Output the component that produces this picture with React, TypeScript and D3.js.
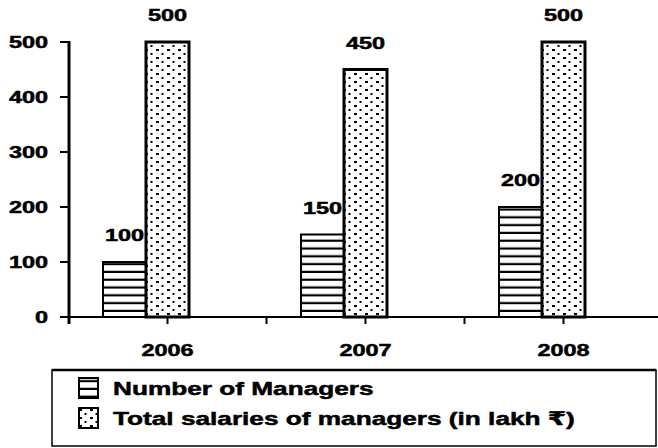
import { useEffect } from 'react'
import * as d3 from 'd3'

const years = ['2006', '2007', '2008']
const managers = [100, 150, 200]
const salaries = [500, 450, 500]
const yTicks = [0, 100, 200, 300, 400, 500]
const seriesKeys = ['managers', 'salaries']
const legendLabels = ['Number of Managers', 'Total salaries of managers (in lakh \u20b9)']

const W = 658
const H = 448
const FONT = '"Liberation Sans", Arial, "DejaVu Sans", sans-serif'
const SX = 1.38 // the scanned chart is stretched sideways

function Txt({ x, y, size, anchor = 'middle', children }: {
  x: number; y: number; size: number; anchor?: string; children: React.ReactNode
}) {
  return (
    <text
      transform={`translate(${x},${y}) scale(${SX},1)`}
      textAnchor={anchor}
      style={{ fontSize: size, fontWeight: 700, fontFamily: FONT, fill: '#000', stroke: '#000', strokeWidth: 0.5 }}
    >
      {children}
    </text>
  )
}

export default function App() {
  useEffect(() => { document.body.style.margin = '0' }, [])

  const y = d3.scaleLinear().domain([0, 500]).range([317, 42])
  const x0 = d3.scaleBand().domain(years).range([47, 641]).paddingInner(0.5657).paddingOuter(0.5657 / 2)
  const x1 = d3.scaleBand().domain(seriesKeys).range([0, x0.bandwidth()])

  const labelX = years.map(yr => (x0(yr) ?? 0) + (x1('salaries') ?? 0) + x1.bandwidth() / 2)
  const tickX: number[] = []
  labelX.forEach((lx, i) => {
    tickX.push(lx)
    if (i < labelX.length - 1) tickX.push((lx + labelX[i + 1]) / 2)
  })

  const axisX = 69
  const baseY = y(0)

  return (
    <svg width={W} height={H} style={{ display: 'block', background: '#fff' }}>
      <defs>
        <pattern id="hlines" patternUnits="userSpaceOnUse" width={8} height={7.8}>
          <rect width={8} height={7.8} fill="#fff" />
          <rect y={5.6} width={8} height={2.2} fill="#000" />
        </pattern>
        <pattern id="dots" patternUnits="userSpaceOnUse" width={11} height={8}>
          <rect width={11} height={8} fill="#fff" />
          <rect x={2} y={1} width={3} height={2} fill="#000" />
          <rect x={7.5} y={5} width={2} height={2} fill="#000" />
        </pattern>
      </defs>

      {/* Bars */}
      {years.map((yr, i) => {
        const bx = x0(yr) ?? 0
        const vals = [managers[i], salaries[i]]
        return (
          <g key={yr}>
            {seriesKeys.map((k, j) => {
              const xx = bx + (x1(k) ?? 0)
              const top = y(vals[j])
              return (
                <g key={k}>
                  <rect x={xx} y={top} width={x1.bandwidth()} height={baseY - top}
                    fill={j === 0 ? 'url(#hlines)' : 'url(#dots)'}
                    stroke="#000" strokeWidth={j === 0 ? 2 : 3} />
                  <Txt x={xx + x1.bandwidth() / 2} y={top - 21} size={17}>{vals[j]}</Txt>
                </g>
              )
            })}
          </g>
        )
      })}

      {/* Y axis */}
      <line x1={axisX} x2={axisX} y1={y(500) - 1} y2={baseY + 7} stroke="#000" strokeWidth={3} />
      {yTicks.map(t => (
        <g key={t}>
          <line x1={60} x2={axisX} y1={y(t)} y2={y(t)} stroke="#000" strokeWidth={2} />
          <Txt x={48} y={y(t) + 6} size={17} anchor="end">{t}</Txt>
        </g>
      ))}

      {/* X axis */}
      <line x1={axisX} x2={W} y1={baseY} y2={baseY} stroke="#000" strokeWidth={2} />
      {tickX.map((tx, i) => (
        <line key={i} x1={tx} x2={tx} y1={baseY} y2={baseY + 7} stroke="#000" strokeWidth={2} />
      ))}
      {years.map((yr, i) => (
        <Txt key={yr} x={labelX[i]} y={356} size={17}>{yr}</Txt>
      ))}

      {/* Legend */}
      <rect x={52} y={370} width={604} height={76} fill="none" stroke="#000" strokeWidth={1.5} />
      <line x1={52} x2={656} y1={370} y2={370} stroke="#000" strokeWidth={2.5} />
      {legendLabels.map((lab, i) => {
        const ly = 388 + i * 30
        return (
          <g key={lab}>
            <rect x={79} y={ly - 10} width={19} height={20}
              fill={i === 0 ? 'url(#hlines)' : 'url(#dots)'} stroke="#000" strokeWidth={2} />
            <Txt x={113} y={ly + 7} size={19} anchor="start">{lab}</Txt>
          </g>
        )
      })}
    </svg>
  )
}
